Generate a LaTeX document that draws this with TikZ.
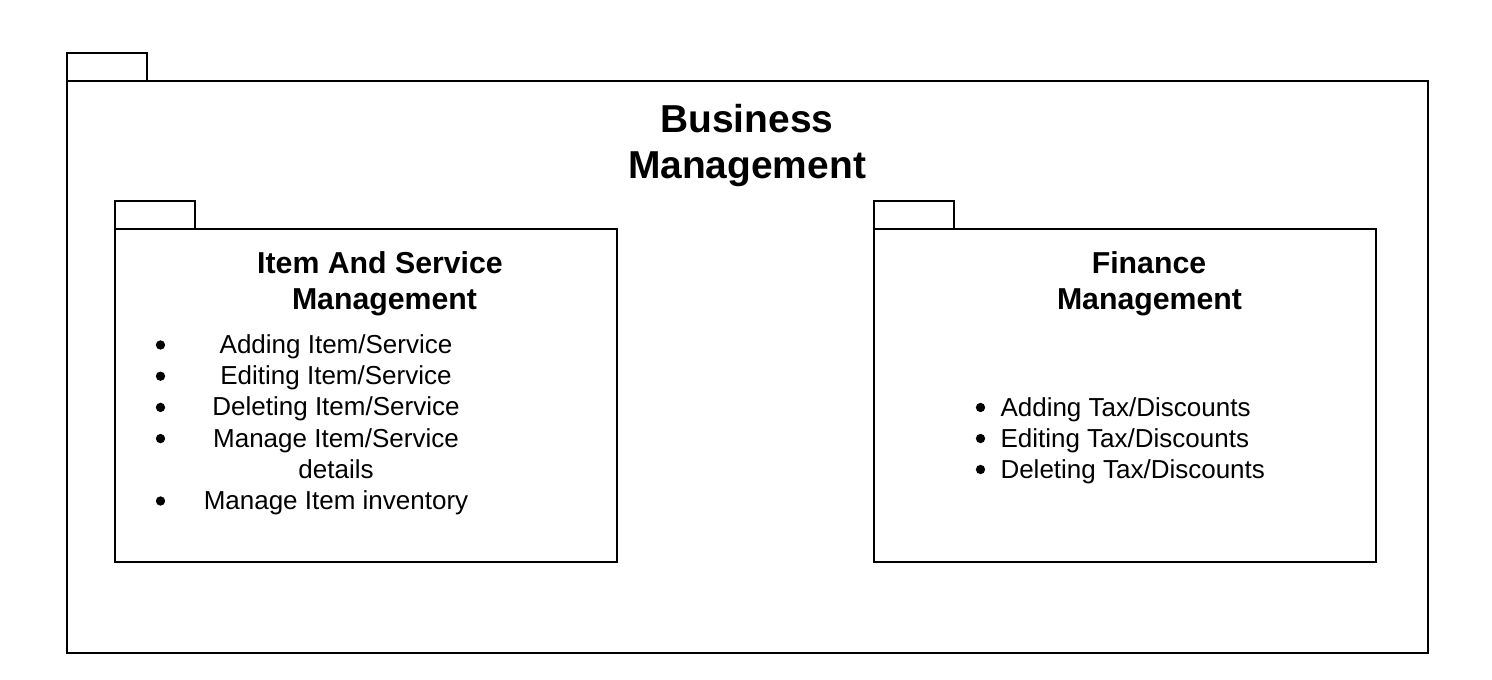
\documentclass[tikz,border=0pt]{standalone}
\usepackage{fontspec}
\setmainfont{Liberation Sans}
\usetikzlibrary{positioning}

\begin{document}
\begin{tikzpicture}[x=0.75pt, y=-0.75pt, line width=1.5pt,
    pkgtitle/.style={anchor=base, inner sep=0pt, font=\fontsize{29.2}{34.5}\selectfont\bfseries},
    subtitle/.style={anchor=base, inner sep=0pt, font=\fontsize{22.7}{27}\selectfont\bfseries},
    entry/.style={anchor=base, inner sep=0pt, font=\fontsize{19.5}{23.25}\selectfont},
    dot/.style={circle, fill, inner sep=0pt, minimum size=7pt}]
    \useasboundingbox (0,0) rectangle (1492,680);
    % outer package
    \draw
    (67, 53) rectangle (147, 81)
    (67, 81) rectangle (1428, 653);
    \node[pkgtitle] (bmA) at (747, 133) {Business};
    \node[pkgtitle] (bmB) at (747, 179) {Management};
    % item and service package
    \draw
    (115, 201) rectangle (195, 229)
    (115, 229) rectangle (617, 562);
    \node[subtitle] (isA) at (380, 274) {Item And Service};
    \node[subtitle] (isB) at (384.5, 309.5) {Management};
    \node[entry] (isAdd) at (336, 353.5) {Adding Item/Service};
    \node[entry] (isEdit) at (336, 384.7) {Editing Item/Service};
    \node[entry] (isDel) at (336, 415.9) {Deleting Item/Service};
    \node[entry] (isMan) at (336, 447.1) {Manage Item/Service};
    \node[entry] (isDet) at (336, 478.3) {details};
    \node[entry] (isInv) at (336, 509.5) {Manage Item inventory};
    \foreach \y/\n in {353.5/a, 384.7/b, 415.9/c, 447.1/d, 509.5/e}
        \node[dot] (isdot\n) at (160.5, \y-8.5) {};
    % finance package
    \draw
    (874, 201) rectangle (954, 229)
    (874, 229) rectangle (1376, 562);
    \node[subtitle] (fmA) at (1149, 274) {Finance};
    \node[subtitle] (fmB) at (1149.5, 309.5) {Management};
    \node[entry, anchor=base west] (fmAdd) at (999.5, 416.5) {Adding Tax/Discounts};
    \node[entry, anchor=base west] (fmEdit) at (999.5, 447.5) {Editing Tax/Discounts};
    \node[entry, anchor=base west] (fmDel) at (999.5, 478.5) {Deleting Tax/Discounts};
    \foreach \y/\n in {416.5/a, 447.5/b, 478.5/c}
        \node[dot] (fmdot\n) at (980.5, \y-9) {};
\end{tikzpicture}
\end{document}
